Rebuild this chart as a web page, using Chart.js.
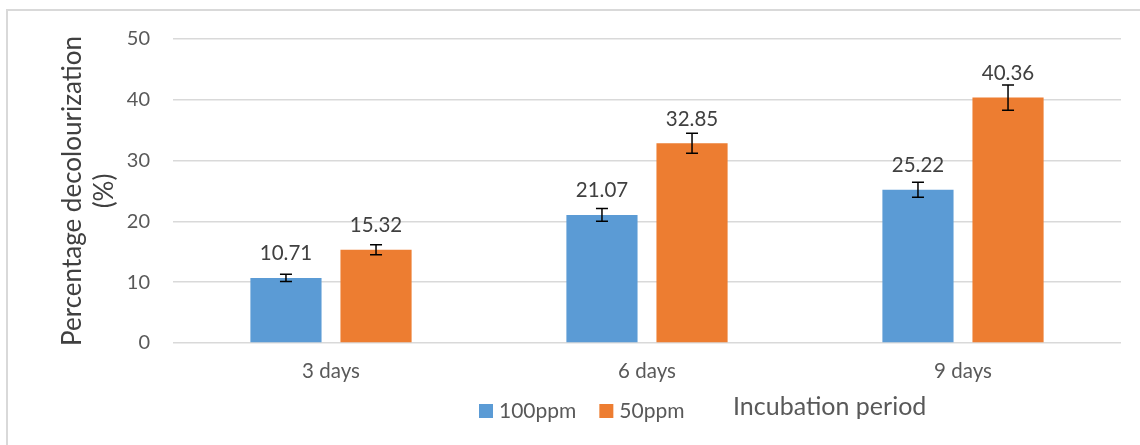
<!DOCTYPE html>
<html>
<head>
<meta charset="utf-8">
<script src="https://cdn.jsdelivr.net/npm/chart.js@4.4.1/dist/chart.umd.min.js"></script>
<style>
  html, body { margin: 0; padding: 0; background: #fff; }
  #wrap { width: 1140px; height: 445px; position: relative; }
</style>
</head>
<body>
<div id="wrap"><canvas id="chart" width="1140" height="445"></canvas></div>
<script>
const categories = ['3 days', '6 days', '9 days'];
const seriesNames = ['100ppm', '50ppm'];
const ppm100 = [10.71, 21.07, 25.22];
const ppm50 = [15.32, 32.85, 40.36];
const ppm100Err = [0.58, 1.04, 1.23];
const ppm50Err = [0.82, 1.64, 2.08];
const yTicks = [0, 10, 20, 30, 40, 50];
const yTitle = ['Percentage decolourization', '(%)'];
const xTitle = 'Incubation period';

const FONT = 'Lato';
const colors = ['#5B9BD5', '#ED7D31'];
const errors = [ppm100Err, ppm50Err];

// background + the grey frame (only top and left edges are visible in the picture)
const framePlugin = {
    id: 'frame',
    beforeDraw(chart) {
        const ctx = chart.ctx;
        ctx.save();
        ctx.fillStyle = '#fff';
        ctx.fillRect(0, 0, chart.width, chart.height);
        ctx.fillStyle = '#d9d9d9';
        ctx.fillRect(6, 9, chart.width - 6, 2);
        ctx.fillRect(6, 9, 2, chart.height - 9);
        ctx.restore();
    }
};

// error bars and value labels
const barExtras = {
    id: 'barExtras',
    afterDatasetsDraw(chart) {
        const ctx = chart.ctx;
        const y = chart.scales.y;
        ctx.save();
        chart.data.datasets.forEach((ds, i) => {
            const meta = chart.getDatasetMeta(i);
            meta.data.forEach((bar, j) => {
                const v = ds.data[j];
                const e = errors[i][j];
                const top = y.getPixelForValue(v + e);
                const bot = y.getPixelForValue(v - e);
                ctx.strokeStyle = '#000';
                ctx.lineWidth = 1.5;
                ctx.beginPath();
                ctx.moveTo(bar.x, top); ctx.lineTo(bar.x, bot);
                ctx.moveTo(bar.x - 6, top); ctx.lineTo(bar.x + 6, top);
                ctx.moveTo(bar.x - 6, bot); ctx.lineTo(bar.x + 6, bot);
                ctx.stroke();

                ctx.fillStyle = '#404040';
                ctx.font = '20.5px ' + FONT;
                ctx.textAlign = 'center';
                ctx.textBaseline = 'alphabetic';
                ctx.fillText(v.toFixed(2), bar.x, bar.y - 17.5);
            });
        });
        ctx.restore();
    }
};

// legend next to the x axis title, drawn the way the original lays them out
const bottomLegend = {
    id: 'bottomLegend',
    afterDraw(chart) {
        const ctx = chart.ctx;
        ctx.save();
        ctx.font = '21px ' + FONT;
        ctx.textBaseline = 'alphabetic';
        ctx.textAlign = 'left';
        let x = 479;
        chart.data.datasets.forEach(ds => {
            ctx.fillStyle = ds.backgroundColor;
            ctx.fillRect(x, 404, 14, 14);
            ctx.fillStyle = '#595959';
            ctx.fillText(ds.label, x + 20, 418);
            x += 20 + ctx.measureText(ds.label).width + 23;
        });
        ctx.font = '25px ' + FONT;
        ctx.fillStyle = '#595959';
        ctx.fillText(xTitle, 733, 415);
        ctx.restore();
    }
};

const ctx = document.getElementById('chart').getContext('2d');
new Chart(ctx, {
    type: 'bar',
    data: {
        labels: categories,
        datasets: [
            { label: seriesNames[0], data: ppm100, backgroundColor: colors[0] },
            { label: seriesNames[1], data: ppm50, backgroundColor: colors[1] }
        ]
    },
    options: {
        responsive: false,
        animation: false,
        devicePixelRatio: 1,
        categoryPercentage: 0.57,
        barPercentage: 0.79,
        layout: { padding: { top: 39, right: 19, left: 0, bottom: 0 } },
        plugins: {
            legend: { display: false },
            tooltip: { enabled: false }
        },
        scales: {
            x: {
                grid: { display: false, drawTicks: false },
                border: { display: false },
                ticks: { color: '#595959', font: { family: FONT, size: 20.5 }, padding: 16 },
                afterFit(scale) { scale.height = 102; }
            },
            y: {
                min: yTicks[0],
                max: yTicks[yTicks.length - 1],
                afterBuildTicks(scale) { scale.ticks = yTicks.map(v => ({ value: v })); },
                grid: { color: '#d9d9d9', lineWidth: 1.5, drawTicks: false },
                border: { display: false },
                ticks: { color: '#595959', font: { family: FONT, size: 20 }, padding: 23 },
                title: {
                    display: true,
                    text: yTitle,
                    color: '#404040',
                    font: { family: FONT, size: 26, lineHeight: 1.25 },
                    padding: { top: 56, bottom: 0 }
                },
                afterFit(scale) { scale.width = 173; }
            }
        }
    },
    plugins: [framePlugin, barExtras, bottomLegend]
});
</script>
</body>
</html>
